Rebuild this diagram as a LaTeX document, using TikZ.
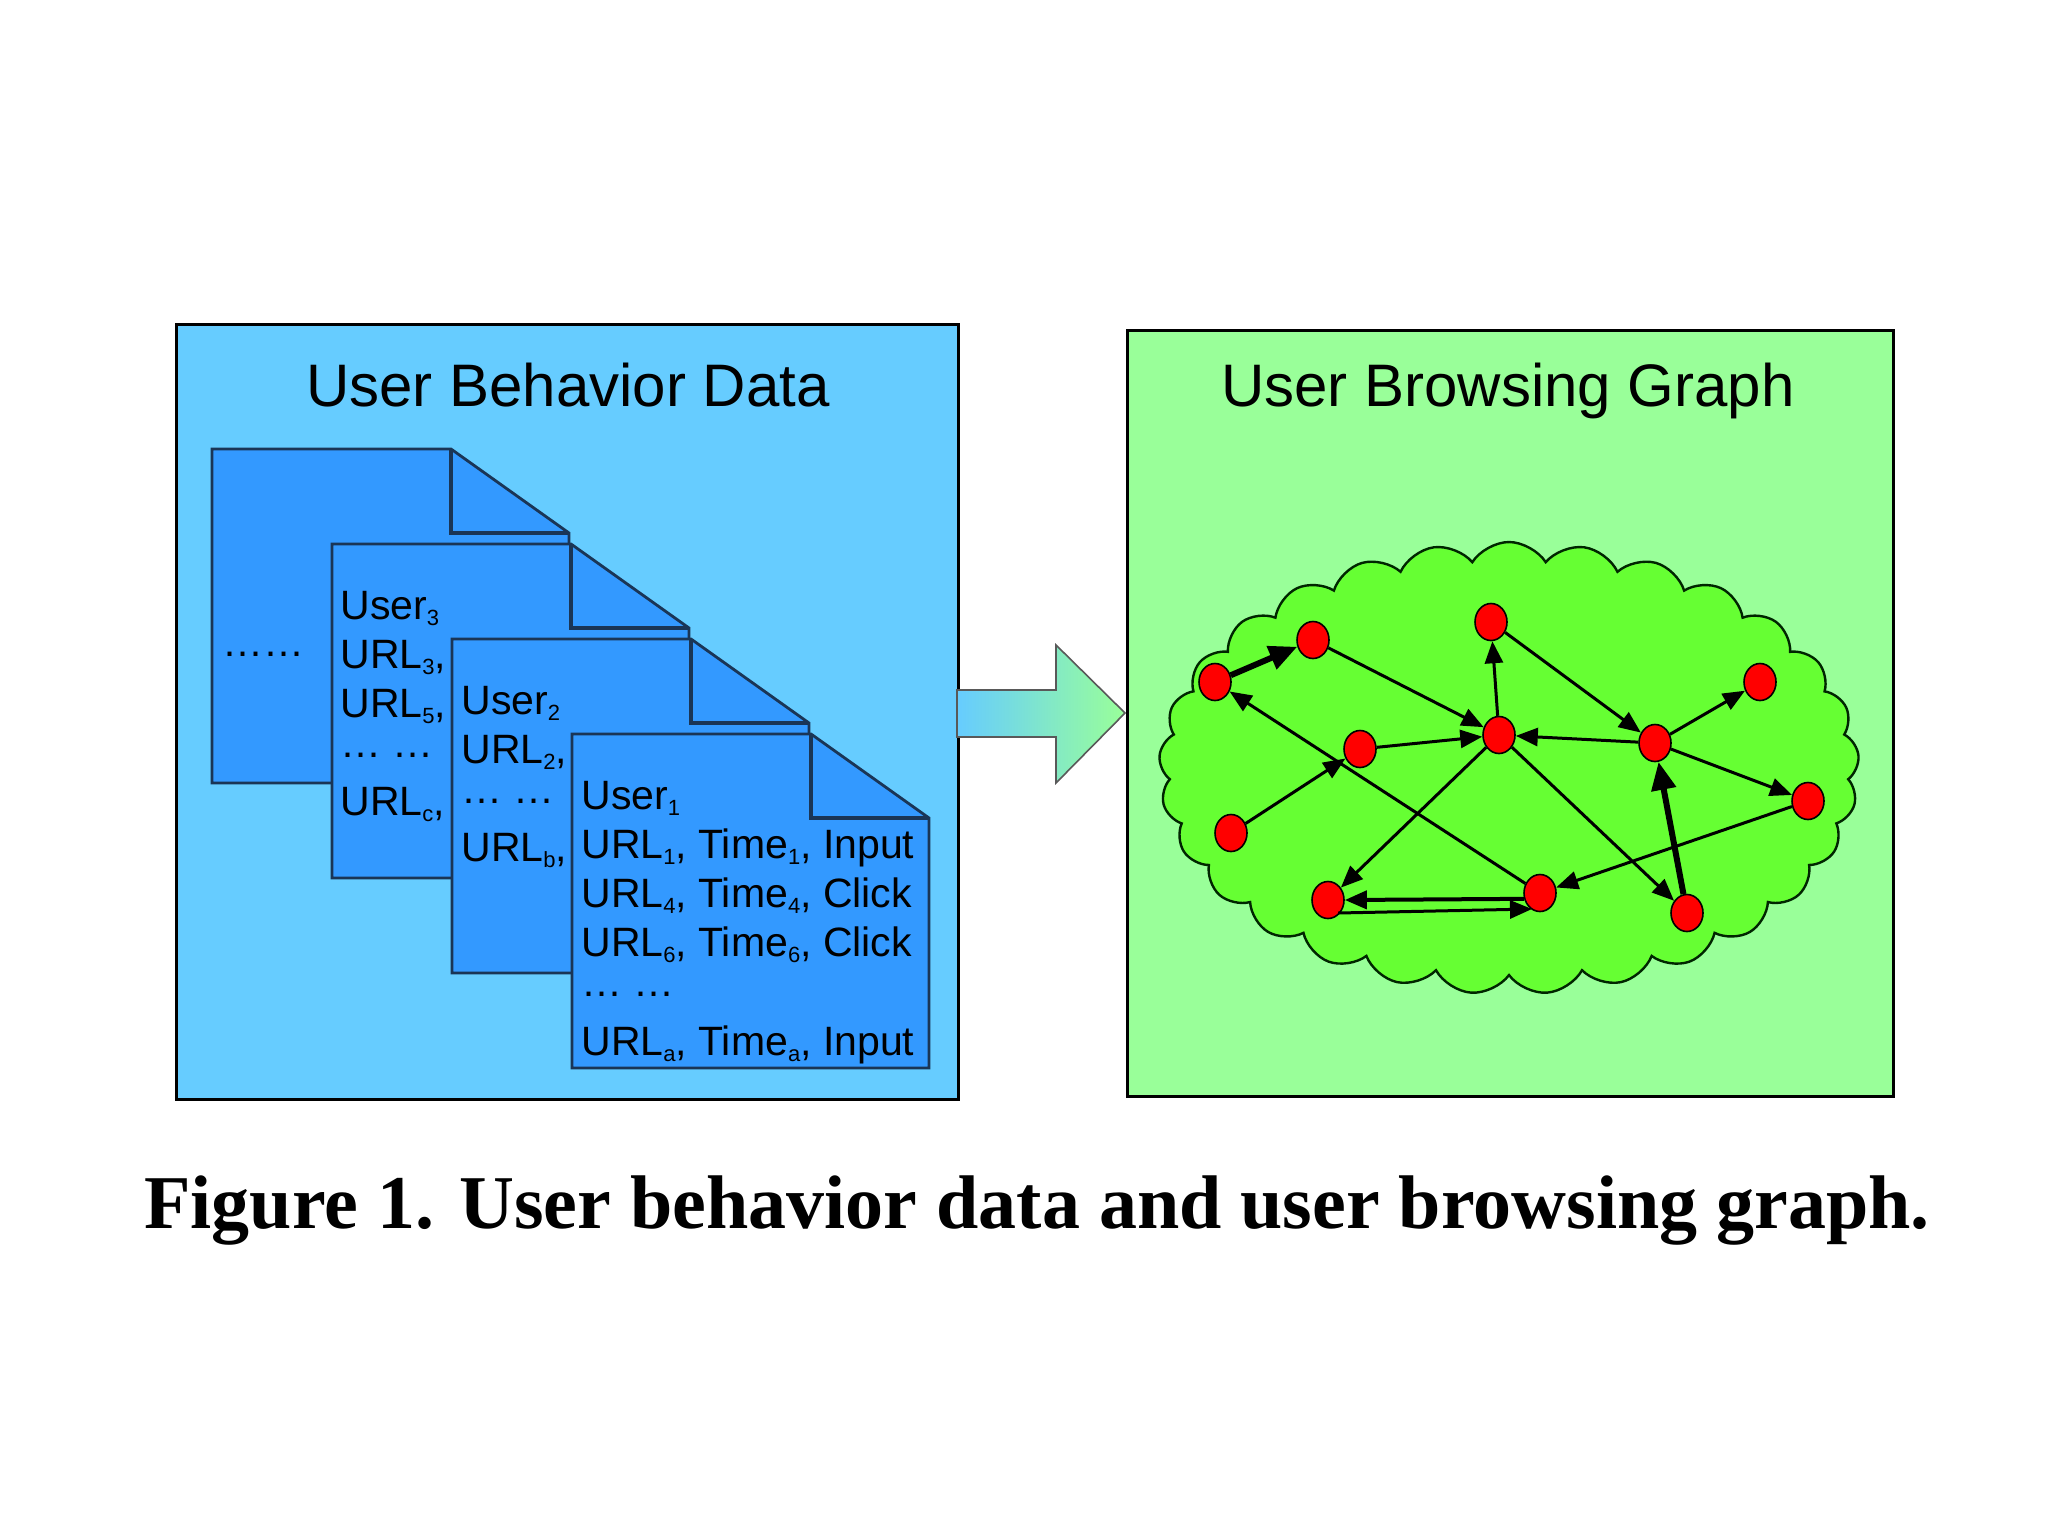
\documentclass[tikz,border=0pt]{standalone}
\usepackage{fontspec}
\setmainfont{Liberation Serif}
\newfontfamily\arialf{Liberation Sans}
\usetikzlibrary{shapes.geometric,shapes.symbols,arrows.meta}
\definecolor{panelblue}{HTML}{66CCFF}
\definecolor{docblue}{HTML}{3399FF}
\definecolor{docedge}{HTML}{1A3556}
\definecolor{panelgreen}{HTML}{99FF99}
\definecolor{cloudgreen}{HTML}{66FF33}
\definecolor{nodered}{HTML}{FF0000}
\definecolor{arrowhead}{HTML}{99FF99}
\newcommand\sbs[1]{\raisebox{-3pt}{\fontsize{11}{11}\selectfont #1}}
\newcommand\drawdoc[2]{%
  \filldraw[docshape] (#1,#2) -- ({#1+239},#2) -- ({#1+357},{#2+84}) -- ({#1+357},{#2+334}) -- (#1,{#2+334}) -- cycle;
  \draw[foldline] ({#1+239},#2) -- ({#1+239},{#2+84}) -- ({#1+357},{#2+84});
}
\begin{document}
\begin{tikzpicture}[x=0.5pt,y=-0.5pt,
  panel/.style={line width=1.5pt,draw=black},
  docshape/.style={fill=docblue,draw=docedge,line width=1.4pt},
  foldline/.style={draw=docedge,line width=1.6pt},
  doctext/.style={anchor=base west,inner sep=0pt,font={\arialf\fontsize{20.5}{24}\selectfont}},
  title/.style={anchor=base,inner sep=0pt,font={\arialf\fontsize{30}{36}\selectfont}},
  vert/.style={ellipse,fill=nodered,draw=black,line width=0.8pt,minimum width=16pt,minimum height=18.5pt,inner sep=0pt},
  edge/.style={line width=1.5pt,-{Triangle[length=11pt,width=9pt]}},
  thickedge/.style={line width=3pt,-{Triangle[length=14pt,width=12pt]}}
]
\useasboundingbox (0,0) rectangle (2048,1536);
\fill[white] (0,0) rectangle (2048,1536);

% left panel
\filldraw[panel,fill=panelblue] (176,324) rectangle (958,1099);
\node[title] (t1) at (568,406) {User Behavior Data};

% documents
\drawdoc{212}{449}
\node[doctext] (d4) at (222,656) {……};

\drawdoc{332}{544}
\node[doctext] (u3) at (340,619) {User\sbs{3}};
\node[doctext] (u3a) at (340,668) {URL\sbs{3},};
\node[doctext] (u3b) at (340,717) {URL\sbs{5},};
\node[doctext] (u3c) at (340,757) {… …};
\node[doctext] (u3d) at (340,815) {URL\sbs{c},};

\drawdoc{452}{639}
\node[doctext] (u2) at (461,714) {User\sbs{2}};
\node[doctext] (u2a) at (461,763) {URL\sbs{2},};
\node[doctext] (u2b) at (461,803) {… …};
\node[doctext] (u2c) at (461,861) {URL\sbs{b},};

\drawdoc{572}{734}
\node[doctext] (u1) at (581,809) {User\sbs{1}};
\node[doctext] (u1a) at (581,858) {URL\sbs{1}, Time\sbs{1}, Input};
\node[doctext] (u1b) at (581,907) {URL\sbs{4}, Time\sbs{4}, Click};
\node[doctext] (u1c) at (581,956) {URL\sbs{6}, Time\sbs{6}, Click};
\node[doctext] (u1d) at (581,996) {… …};
\node[doctext] (u1e) at (581,1055) {URL\sbs{a}, Time\sbs{a}, Input};

% right panel
\filldraw[panel,fill=panelgreen] (1127,330) rectangle (1893,1096);
\node[title] (t2) at (1508,406) {User Browsing Graph};

% fat arrow
\shade[left color=panelblue,right color=arrowhead,draw=black!65,line width=0.8pt]
  (957,690) -- (1056,690) -- (1056,645) -- (1125,713) -- (1056,783) -- (1056,737) -- (957,737) -- cycle;

% cloud
\node[cloud,cloud puffs=29,cloud puff arc=115,cloud ignores aspect,minimum width=350pt,minimum height=226pt,
  fill=cloudgreen,draw=black!85!green,line width=1.2pt] (cl) at (1509,768) {};

% graph vertices
\node[vert] (A) at (1215,682) {};
\node[vert] (B) at (1313,640) {};
\node[vert] (C) at (1491,622) {};
\node[vert] (D) at (1360,749) {};
\node[vert] (E) at (1499,735) {};
\node[vert] (F) at (1655,743) {};
\node[vert] (G) at (1760,682) {};
\node[vert] (H) at (1808,801) {};
\node[vert] (I) at (1231,833) {};
\node[vert] (J) at (1328,900) {};
\node[vert] (K) at (1540,893) {};
\node[vert] (L) at (1687,913) {};

% edges
\draw[thickedge] (A) -- (B);
\draw[edge] (B) -- (E);
\draw[edge] (D) -- (E);
\draw[edge] (E) -- (C);
\draw[edge] (C) -- (F);
\draw[edge] (F) -- (E);
\draw[edge] (F) -- (G);
\draw[edge] (F) -- (H);
\draw[thickedge] (L) -- (F);
\draw[edge] (H) -- (K);
\draw[edge] (E) -- (L);
\draw[edge] (E) -- (J);
\draw[edge] (K) -- (A);
\draw[edge] (I) -- (D);
\draw[edge,line width=2pt] (K.200) -- (J.east);
\draw[edge] ([shift={(10,13)}]J.center) -- ([shift={(-8,16)}]K.center);

% caption
\node[anchor=base,inner sep=0pt,font={\bfseries\fontsize{38}{44}\selectfont}] (cap) at (1037,1228)
  {Figure 1. User behavior data and user browsing graph.};
\end{tikzpicture}
\end{document}
